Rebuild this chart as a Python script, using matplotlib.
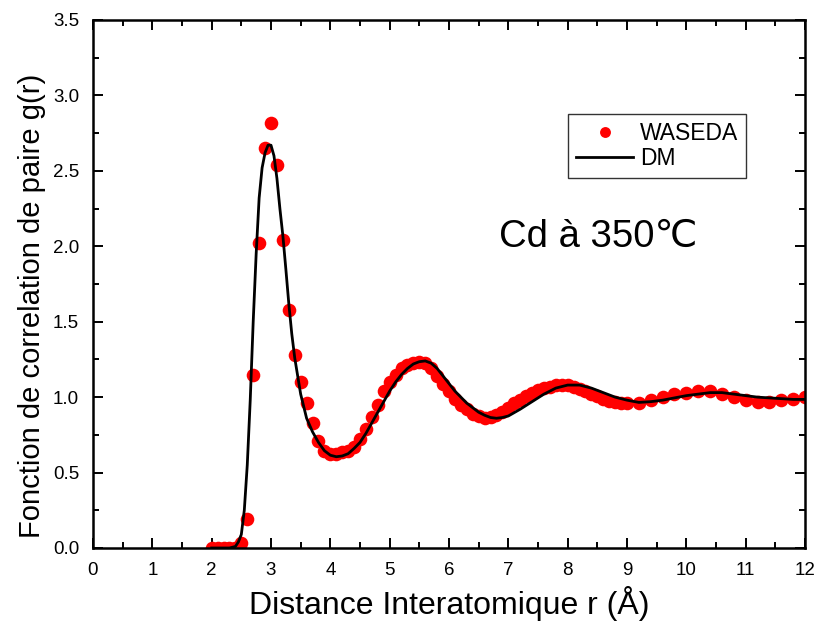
import matplotlib
matplotlib.use("Agg")
import matplotlib.pyplot as plt
from matplotlib.ticker import MultipleLocator

plt.rcParams['font.family'] = ['Liberation Sans', 'DejaVu Sans']

# WASEDA experimental points
waseda_r = [2.0, 2.1, 2.2, 2.3, 2.4, 2.5, 2.6, 2.7, 2.8, 2.9, 3.0, 3.1, 3.2, 3.3, 3.4,
            3.5, 3.6, 3.7, 3.8, 3.9, 4.0, 4.1, 4.2, 4.3, 4.4, 4.5, 4.6, 4.7, 4.8, 4.9,
            5.0, 5.1, 5.2, 5.3, 5.4, 5.5, 5.6, 5.7, 5.8, 5.9, 6.0, 6.1, 6.2, 6.3, 6.4,
            6.5, 6.6, 6.7, 6.8, 6.9, 7.0, 7.1, 7.2, 7.3, 7.4, 7.5, 7.6, 7.7, 7.8, 7.9,
            8.0, 8.1, 8.2, 8.3, 8.4, 8.5, 8.6, 8.7, 8.8, 8.9, 9.0, 9.2, 9.4, 9.6, 9.8,
            10.0, 10.2, 10.4, 10.6, 10.8, 11.0, 11.2, 11.4, 11.6, 11.8, 12.0]
waseda_g = [0.0, 0.0, 0.0, 0.0, 0.0, 0.03, 0.19, 1.15, 2.02, 2.65, 2.82, 2.54, 2.04, 1.58, 1.28,
            1.10, 0.96, 0.83, 0.71, 0.64, 0.62, 0.625, 0.635, 0.645, 0.67, 0.72, 0.79, 0.87, 0.95, 1.04,
            1.10, 1.15, 1.19, 1.21, 1.225, 1.235, 1.225, 1.19, 1.14, 1.09, 1.04, 0.99, 0.95, 0.92, 0.89,
            0.875, 0.865, 0.87, 0.88, 0.90, 0.93, 0.96, 0.98, 1.01, 1.03, 1.05, 1.06, 1.07, 1.08, 1.08,
            1.08, 1.07, 1.055, 1.04, 1.02, 1.005, 0.99, 0.975, 0.965, 0.96, 0.96, 0.96, 0.98, 1.0, 1.02,
            1.03, 1.04, 1.04, 1.02, 1.0, 0.98, 0.97, 0.97, 0.98, 0.99, 1.0]

# DM calculated curve
dm_r = [2.0, 2.3, 2.4, 2.45, 2.5, 2.55, 2.6, 2.65, 2.7, 2.75, 2.8, 2.85, 2.9, 2.95, 3.0,
        3.05, 3.1, 3.15, 3.2, 3.25, 3.3, 3.35, 3.4, 3.5, 3.6, 3.7, 3.8, 3.9, 4.0, 4.1,
        4.2, 4.3, 4.4, 4.5, 4.6, 4.7, 4.8, 4.9, 5.0, 5.1, 5.2, 5.3, 5.4, 5.5, 5.6,
        5.7, 5.8, 5.9, 6.0, 6.1, 6.2, 6.3, 6.4, 6.5, 6.6, 6.7, 6.8, 6.9, 7.0, 7.2,
        7.4, 7.6, 7.8, 8.0, 8.2, 8.4, 8.6, 8.8, 9.0, 9.2, 9.4, 9.6, 9.8, 10.0, 10.2,
        10.4, 10.6, 10.8, 11.0, 11.2, 11.4, 11.6, 11.8, 12.0]
dm_g = [0.0, 0.0, 0.01, 0.04, 0.09, 0.25, 0.55, 0.98, 1.50, 1.95, 2.32, 2.52, 2.62, 2.67, 2.67,
        2.60, 2.45, 2.25, 2.07, 1.85, 1.62, 1.42, 1.26, 1.02, 0.86, 0.77, 0.70, 0.645, 0.615, 0.605,
        0.61, 0.625, 0.66, 0.70, 0.76, 0.83, 0.90, 0.97, 1.04, 1.10, 1.15, 1.19, 1.22, 1.235, 1.24,
        1.225, 1.19, 1.14, 1.09, 1.04, 1.00, 0.96, 0.93, 0.90, 0.88, 0.865, 0.86, 0.865, 0.875, 0.92,
        0.97, 1.02, 1.06, 1.08, 1.08, 1.06, 1.03, 1.00, 0.98, 0.965, 0.97, 0.98, 0.995, 1.01, 1.02,
        1.03, 1.03, 1.02, 1.01, 1.0, 0.995, 0.99, 0.985, 0.985]

x_ticks = list(range(0, 13))
y_ticks = [0.0, 0.5, 1.0, 1.5, 2.0, 2.5, 3.0, 3.5]

fig = plt.figure(figsize=(8.19, 6.26), dpi=100)
ax = fig.add_axes([93/819, 78/626, 712/819, 528/626])

ax.plot(waseda_r, waseda_g, 'o', color='#ff0000', markersize=9.8, markeredgewidth=0,
        label='WASEDA', zorder=2)
ax.plot(dm_r, dm_g, '-', color='black', linewidth=2.0, label='DM', zorder=3)

ax.set_xlim(0, 12)
ax.set_ylim(0, 3.5)
ax.set_xticks(x_ticks)
ax.set_yticks(y_ticks)
ax.set_yticklabels([f"{v:.1f}" for v in y_ticks])
ax.xaxis.set_minor_locator(MultipleLocator(0.5))
ax.yaxis.set_minor_locator(MultipleLocator(0.25))
ax.tick_params(which='both', direction='in', top=True, right=True, width=1.4)
ax.tick_params(which='major', length=7.5, labelsize=13.5)
ax.tick_params(axis='x', which='major', pad=10)
ax.tick_params(axis='y', which='major', pad=10)
ax.tick_params(which='minor', length=4)
for s in ax.spines.values():
    s.set_linewidth(1.8)

ax.set_xlabel('Distance Interatomique r (Å)', fontsize=23, labelpad=5)
ax.set_ylabel('Fonction de correlation de paire g(r)', fontsize=21)
ax.yaxis.set_label_coords(-0.066, 0.458)

ax.text(8.51, 2.06, 'Cd à 350℃', fontsize=27.5, ha='center', va='center')

leg = ax.legend(loc='upper left', bbox_to_anchor=(0.667, 0.822), fontsize=16.5,
                frameon=True, fancybox=False, edgecolor='black', borderpad=0.35,
                handlelength=2.5, handletextpad=0.3, labelspacing=0.1, numpoints=1,
                markerscale=0.8, borderaxespad=0)
leg.get_frame().set_linewidth(1.0)

fig.savefig('out.png', dpi=100)
